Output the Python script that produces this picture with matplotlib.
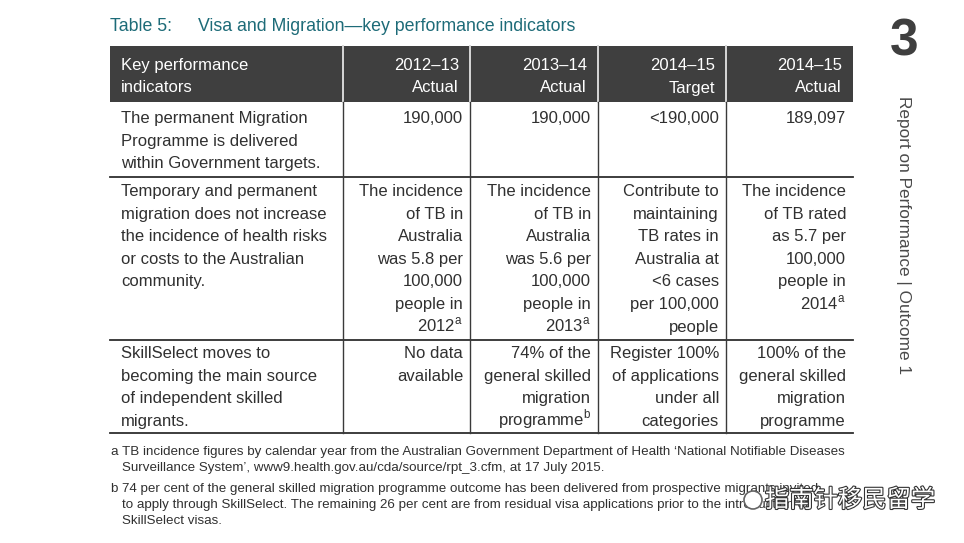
import matplotlib
matplotlib.use("Agg")
import matplotlib.pyplot as plt
from matplotlib.patches import Rectangle, Circle
import matplotlib.patheffects as pe

plt.rcParams['font.family'] = ['Liberation Sans', 'DejaVu Sans']
plt.rcParams['mathtext.fontset'] = 'custom'
plt.rcParams['mathtext.rm'] = 'Liberation Sans'

# ---- data ----
title_num = "Table 5:"
title_text = "Visa and Migration\u2014key performance indicators"
header_labels = ["Key performance\nindicators", "2012\u201313\nActual", "2013\u201314\nActual",
                 "2014\u201315\nTarget", "2014\u201315\nActual"]
indicators = [
    "The permanent Migration\nProgramme is delivered\nwithin Government targets.",
    "Temporary and permanent\nmigration does not increase\nthe incidence of health risks\nor costs to the Australian\ncommunity.",
    "SkillSelect moves to\nbecoming the main source\nof independent skilled\nmigrants.",
]
actual_2012_13 = [
    "190,000",
    "The incidence\nof TB in\nAustralia\nwas 5.8 per\n100,000\npeople in\n2012$^{\\mathrm{a}}$",
    "No data\navailable",
]
actual_2013_14 = [
    "190,000",
    "The incidence\nof TB in\nAustralia\nwas 5.6 per\n100,000\npeople in\n2013$^{\\mathrm{a}}$",
    "74% of the\ngeneral skilled\nmigration\nprogramme$^{\\mathrm{b}}$",
]
target_2014_15 = [
    "<190,000",
    "Contribute to\nmaintaining\nTB rates in\nAustralia at\n<6 cases\nper 100,000\npeople",
    "Register 100%\nof applications\nunder all\ncategories",
]
actual_2014_15 = [
    "189,097",
    "The incidence\nof TB rated\nas 5.7 per\n100,000\npeople in\n2014$^{\\mathrm{a}}$",
    "100% of the\ngeneral skilled\nmigration\nprogramme",
]
footnotes = [
    ("a", "TB incidence figures by calendar year from the Australian Government Department of Health \u2018National Notifiable Diseases\nSurveillance System\u2019, www9.health.gov.au/cda/source/rpt_3.cfm, at 17 July 2015."),
    ("b", "74 per cent of the general skilled migration programme outcome has been delivered from prospective migrants invited\nto apply through SkillSelect. The remaining 26 per cent are from residual visa applications prior to the introduction of\nSkillSelect visas."),
]
side_number = "3"
side_text = "Report on Performance | Outcome 1"
watermark = "指南针移民留学"

# ---- layout (pixel space) ----
W, H = 964, 543
col_edges = [110, 343, 470, 598, 726, 853]
header_top, header_bot = 46, 102
row_edges = [102, 177, 340, 433]
LH = 22.6
PAD = 7
text_color = "#303030"
body_size = 12.0

fig = plt.figure(figsize=(W / 100, H / 100), dpi=100)
ax = fig.add_axes([0, 0, 1, 1])
ax.set_xlim(0, W)
ax.set_ylim(H, 0)
ax.axis("off")


def draw_lines(x, y0, text, ha, color, size, lh, **kw):
    for i, line in enumerate(text.split("\n")):
        ax.text(x, y0 + i * lh, line, ha=ha, va="baseline", color=color, fontsize=size, **kw)


# title
ax.text(110, 31, title_num, color="#1d6b78", fontsize=12.8, va="baseline")
ax.text(198, 31, title_text, color="#1d6b78", fontsize=12.8, va="baseline")

# header
ax.add_patch(Rectangle((col_edges[0], header_top), col_edges[-1] - col_edges[0],
                       header_bot - header_top, color="#3f3f3f", lw=0))
for x in col_edges[1:-1]:
    ax.plot([x, x], [header_top, header_bot], color="#d8d8d8", lw=1.4)
for j, lab in enumerate(header_labels):
    if j == 0:
        draw_lines(col_edges[0] + 11, header_top + 24, lab, "left", "white", body_size, 22.5)
    else:
        draw_lines(col_edges[j + 1] - 11, header_top + 24, lab, "right", "white", body_size, 22.5)

# body
columns = [indicators, actual_2012_13, actual_2013_14, target_2014_15, actual_2014_15]
row_offsets = [21, 19, 18]
for r in range(len(indicators)):
    top = row_edges[r]
    for j, col in enumerate(columns):
        if j == 0:
            draw_lines(col_edges[0] + 11, top + row_offsets[r], col[r], "left", text_color, body_size, LH)
        else:
            draw_lines(col_edges[j + 1] - PAD, top + row_offsets[r], col[r], "right", text_color, body_size, LH)

for y in row_edges[1:]:
    ax.plot([col_edges[0], col_edges[-1]], [y, y], color="#2e2e2e", lw=1.3)
for x in col_edges[1:-1]:
    ax.plot([x, x], [row_edges[0], row_edges[-1]], color="#3a3a3a", lw=1.0)

# footnotes
fy = [455, 492]
for (mark, txt), y in zip(footnotes, fy):
    ax.text(110, y, mark, color=text_color, fontsize=9.6, va="baseline")
    draw_lines(122, y, txt, "left", text_color, 9.6, 16)

# side decoration
ax.text(904, 42, side_number, ha="center", va="center", fontsize=37, fontweight="bold",
        color="#3f3f3f", fontfamily=["Liberation Sans Narrow", "Liberation Sans"])
ax.text(903, 235, side_text, ha="center", va="center", rotation=270, fontsize=12.4,
        color="#4a4a4a")

# watermark
ax.add_patch(Circle((753, 500), 9, fc="white", ec="#666666", lw=1.2, zorder=5))
ax.text(765, 500, watermark, ha="left", va="center", fontsize=17.5, color="white",
        fontfamily=["Noto Sans CJK SC", "DejaVu Sans"], zorder=6,
        path_effects=[pe.withStroke(linewidth=1.6, foreground="#333333")])

fig.savefig("out.png", dpi=100)
